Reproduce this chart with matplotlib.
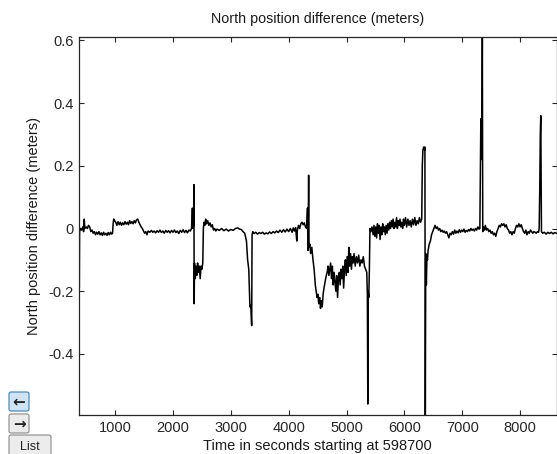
"""North position difference over time, MATLAB-style figure window."""
import matplotlib
matplotlib.use('Agg')
import matplotlib.pyplot as plt
from matplotlib.patches import FancyBboxPatch
from matplotlib.ticker import FuncFormatter

plt.rcParams['font.family'] = ['Liberation Sans', 'DejaVu Sans']
plt.rcParams['axes.unicode_minus'] = False

# time (s after 598700) and north difference (m)
t_sec = [
    375, 380, 385, 400, 420, 440, 455, 466, 475, 500, 520, 540, 560, 580, 600,
    620, 640, 660, 680, 700, 720, 740, 760, 780, 800, 820, 840, 860, 880, 900,
    920, 940, 955, 965, 975, 990, 1010, 1030, 1050, 1070, 1090, 1110, 1130,
    1150, 1170, 1190, 1210, 1230, 1250, 1270, 1290, 1310, 1330, 1350, 1370,
    1390, 1410, 1430, 1450, 1470, 1490, 1510, 1530, 1550, 1570, 1600, 1625,
    1650, 1675, 1700, 1725, 1750, 1775, 1800, 1825, 1850, 1875, 1900, 1925,
    1950, 1975, 2000, 2025, 2050, 2075, 2100, 2125, 2150, 2175, 2200, 2225,
    2250, 2275, 2300, 2320, 2335, 2345, 2355, 2362, 2366, 2372, 2385, 2395,
    2410, 2425, 2440, 2455, 2470, 2485, 2500, 2515, 2525, 2535, 2550, 2565,
    2580, 2600, 2620, 2640, 2660, 2680, 2700, 2720, 2740, 2760, 2800, 2840,
    2880, 2920, 2960, 3000, 3040, 3080, 3120, 3150, 3180, 3210, 3240, 3270,
    3290, 3310, 3330, 3345, 3360, 3367, 3380, 3400, 3430, 3460, 3490, 3520,
    3550, 3580, 3610, 3640, 3670, 3700, 3730, 3760, 3790, 3820, 3850, 3880,
    3910, 3940, 3970, 4000, 4030, 4060, 4080, 4100, 4120, 4140, 4150, 4170,
    4190, 4210, 4230, 4250, 4270, 4290, 4310, 4325, 4335, 4345, 4352, 4365,
    4380, 4400, 4420, 4440, 4460, 4475, 4490, 4505, 4520, 4535, 4550, 4565,
    4580, 4595, 4610, 4630, 4650, 4665, 4680, 4695, 4710, 4725, 4740, 4755,
    4770, 4785, 4800, 4815, 4830, 4845, 4860, 4875, 4890, 4905, 4920, 4935,
    4950, 4965, 4980, 4995, 5010, 5025, 5040, 5055, 5070, 5085, 5100, 5115,
    5130, 5150, 5170, 5190, 5210, 5230, 5250, 5270, 5290, 5310, 5330, 5350,
    5360, 5368, 5375, 5385, 5395, 5405, 5420, 5440, 5460, 5475, 5490, 5505,
    5520, 5535, 5550, 5565, 5580, 5595, 5610, 5625, 5640, 5655, 5670, 5685,
    5700, 5715, 5730, 5745, 5760, 5775, 5790, 5805, 5820, 5835, 5850, 5865,
    5880, 5895, 5910, 5925, 5940, 5955, 5970, 5985, 6000, 6020, 6040, 6060,
    6080, 6100, 6120, 6140, 6160, 6180, 6200, 6220, 6240, 6260, 6280, 6300,
    6310, 6320, 6335, 6350, 6355, 6362, 6370, 6380, 6390, 6400, 6410, 6430,
    6450, 6470, 6490, 6510, 6530, 6550, 6570, 6590, 6610, 6630, 6650, 6670,
    6690, 6710, 6730, 6750, 6770, 6790, 6810, 6830, 6850, 6870, 6890, 6910,
    6930, 6950, 6970, 6990, 7010, 7030, 7050, 7070, 7090, 7110, 7130, 7150,
    7170, 7190, 7210, 7230, 7250, 7270, 7290, 7305, 7312, 7322, 7330, 7340,
    7348, 7355, 7370, 7385, 7400, 7420, 7440, 7460, 7480, 7500, 7520, 7540,
    7560, 7580, 7600, 7620, 7640, 7660, 7680, 7700, 7720, 7740, 7760, 7780,
    7800, 7820, 7840, 7860, 7880, 7900, 7920, 7940, 7960, 7980, 8000, 8020,
    8040, 8060, 8080, 8100, 8120, 8140, 8160, 8180, 8200, 8220, 8240, 8260,
    8280, 8300, 8320, 8330, 8340, 8350, 8358, 8364, 8370, 8390, 8420, 8450,
    8480, 8510, 8540, 8570, 8600, 8630,
]
north_diff = [
    -0.005, -0.19, -0.01, 0.0, -0.005, 0.005, -0.01, 0.03, 0.0, 0.005, 0.0,
    0.01, 0.005, -0.01, -0.005, -0.015, -0.01, -0.02, -0.012, -0.018, -0.01,
    -0.02, -0.014, -0.022, -0.012, -0.02, -0.015, -0.022, -0.013, -0.02,
    -0.012, -0.018, -0.015, 0.015, 0.03, 0.025, 0.02, 0.01, 0.022, 0.012,
    0.02, 0.01, 0.018, 0.012, 0.022, 0.014, 0.02, 0.012, 0.025, 0.016, 0.022,
    0.015, 0.025, 0.018, 0.028, 0.03, 0.02, 0.012, 0.005, 0.0, -0.008,
    -0.015, -0.01, -0.02, -0.008, -0.012, -0.006, -0.012, -0.008, -0.014,
    -0.007, -0.012, -0.005, -0.013, -0.008, -0.015, -0.006, -0.012, -0.007,
    -0.014, -0.006, -0.012, -0.005, -0.013, -0.008, -0.016, -0.006, -0.012,
    -0.004, -0.013, -0.006, -0.014, -0.005, -0.008, 0.0, 0.065, 0.0, 0.01,
    0.14, -0.24, -0.11, -0.16, -0.12, -0.15, -0.11, -0.14, -0.12, -0.16,
    -0.12, -0.13, -0.11, 0.0, 0.02, 0.01, 0.03, 0.015, 0.025, 0.01, 0.018,
    0.005, 0.012, -0.005, 0.0, -0.008, -0.002, -0.006, 0.0, -0.007, -0.002,
    -0.008, -0.003, -0.006, 0.0, 0.002, -0.002, -0.003, -0.01, -0.015,
    -0.04, -0.1, -0.13, -0.25, -0.245, -0.31, -0.02, -0.01, -0.016, -0.012,
    -0.018, -0.013, -0.016, -0.012, -0.018, -0.014, -0.017, -0.011, -0.016,
    -0.01, -0.014, -0.008, -0.013, -0.005, -0.012, -0.004, -0.011, -0.002,
    -0.01, 0.0, -0.012, 0.002, -0.008, 0.003, -0.04, -0.005, 0.01, 0.0,
    0.015, 0.02, 0.012, 0.018, 0.005, 0.0, 0.065, -0.07, 0.17, -0.06, -0.05,
    -0.08, -0.06, -0.1, -0.13, -0.18, -0.2, -0.22, -0.21, -0.24, -0.22,
    -0.255, -0.23, -0.25, -0.21, -0.19, -0.17, -0.15, -0.14, -0.12, -0.15,
    -0.13, -0.11, -0.16, -0.12, -0.18, -0.14, -0.17, -0.2, -0.15, -0.22,
    -0.16, -0.14, -0.18, -0.13, -0.16, -0.12, -0.19, -0.13, -0.1, -0.15,
    -0.09, -0.14, -0.06, -0.12, -0.08, -0.13, -0.09, -0.11, -0.08, -0.12,
    -0.09, -0.11, -0.085, -0.12, -0.1, -0.11, -0.09, -0.12, -0.13, -0.14,
    -0.21, -0.56, -0.2, -0.22, -0.13, 0.0, -0.01, 0.005, -0.02, 0.01, -0.025,
    0.005, -0.03, 0.015, -0.015, 0.01, -0.035, 0.005, -0.02, 0.015, -0.01,
    0.005, -0.02, 0.01, -0.015, 0.015, -0.005, 0.02, 0.0, 0.025, 0.005, 0.03,
    0.0, 0.02, 0.005, 0.035, 0.0, 0.025, 0.01, 0.03, 0.005, 0.02, 0.0, 0.03,
    0.01, 0.035, 0.005, 0.03, 0.01, 0.025, 0.005, 0.03, 0.012, 0.035, 0.01,
    0.025, 0.015, 0.035, 0.02, 0.03, 0.2, 0.25, 0.26, 0.25, 0.26, -0.595,
    -0.08, -0.18, -0.09, -0.1, -0.07, -0.05, -0.04, -0.02, -0.01, 0.0, 0.01,
    0.0, 0.005, -0.005, 0.0, -0.01, -0.005, -0.012, -0.008, -0.015, -0.01,
    -0.02, -0.03, -0.015, -0.02, -0.01, -0.018, -0.005, -0.015, -0.008,
    -0.014, -0.004, -0.012, -0.005, -0.01, -0.002, -0.012, -0.006, -0.01,
    -0.003, -0.008, 0.0, -0.006, -0.002, -0.008, 0.0, -0.005, 0.005, -0.002,
    0.0, 0.13, 0.35, 0.22, 0.25, 0.61, -0.01, 0.005, -0.005, 0.01, -0.005,
    0.0, -0.01, -0.005, -0.015, -0.01, -0.02, -0.015, -0.025, -0.01, 0.0,
    0.01, 0.005, 0.015, 0.01, 0.015, 0.005, 0.012, 0.0, -0.005, -0.015,
    -0.01, -0.02, -0.01, -0.015, 0.0, 0.01, 0.005, 0.015, 0.005, 0.012, 0.0,
    -0.01, -0.015, -0.005, -0.02, -0.01, -0.015, -0.005, -0.01, -0.015,
    -0.01, -0.012, -0.015, -0.01, -0.012, 0.0, 0.12, 0.3, 0.36, 0.18, -0.01,
    -0.015, -0.012, -0.018, -0.012, -0.016, -0.012, -0.017, -0.013, -0.015,
]
x_ticks = [1000, 2000, 3000, 4000, 5000, 6000, 7000, 8000]
y_ticks = [-0.4, -0.2, 0, 0.2, 0.4, 0.6]

W, H = 557, 454
fig = plt.figure(figsize=(W / 100, H / 100), dpi=100)
fig.patch.set_facecolor('white')

# axes box in pixels: left 79, right 556.5, top 37, bottom 415
ax = fig.add_axes([79 / W, 1 - 415 / H, (556.5 - 79) / W, (415 - 37.3) / H])
ax.plot(t_sec, north_diff, color='black', linewidth=1.1)
# axis tight, like MATLAB
ax.set_xlim(min(t_sec), max(t_sec))
ax.set_ylim(min(north_diff), max(north_diff))

ax.set_xticks(x_ticks)
ax.set_yticks(y_ticks)
ax.yaxis.set_major_formatter(FuncFormatter(lambda v, p: f'{v:g}'))
ax.tick_params(direction='in', top=True, right=True, length=3.5, width=0.8,
               labelsize=10.5, colors='#262626', pad=4)
for s in ax.spines.values():
    s.set_linewidth(0.9)
    s.set_color('#262626')

fig.text(318 / W, 1 - 19 / H, 'North position difference (meters)',
         ha='center', va='center', fontsize=10.3, color='#1a1a1a')
fig.text(317 / W, 1 - 446 / H, 'Time in seconds starting at 598700',
         ha='center', va='center', fontsize=10.5, color='#1a1a1a')
fig.text(34 / W, 1 - 226 / H, 'North position difference (meters)',
         ha='center', va='center', rotation=90, fontsize=10.5, color='#1a1a1a')

# figure-window buttons in the lower left
buttons = [
    ('\u2190', 9, 392, 20, 19, '#cfe3f5', '#3c7fb1'),
    ('\u2192', 9, 414, 20, 19, '#ececec', '#8a8a8a'),
    ('List', 9, 435, 42, 22, '#ececec', '#8a8a8a'),
]
for label, bx, by, bw, bh, face, edge in buttons:
    box = FancyBboxPatch((bx / W, 1 - (by + bh) / H), bw / W, bh / H,
                         boxstyle='round,pad=0,rounding_size=0.004',
                         transform=fig.transFigure, facecolor=face,
                         edgecolor=edge, linewidth=0.8)
    fig.patches.append(box)
    is_list = label == 'List'
    fig.text((bx + bw / 2) / W, 1 - (by + bh / 2 + (1 if is_list else 0)) / H,
             label, ha='center', va='center', fontsize=9 if is_list else 11,
             fontweight='normal' if is_list else 'bold',
             color='#222222', family=['DejaVu Sans'] if not is_list else ['Liberation Sans'])

fig.savefig('out.png', dpi=100)
plt.close(fig)
